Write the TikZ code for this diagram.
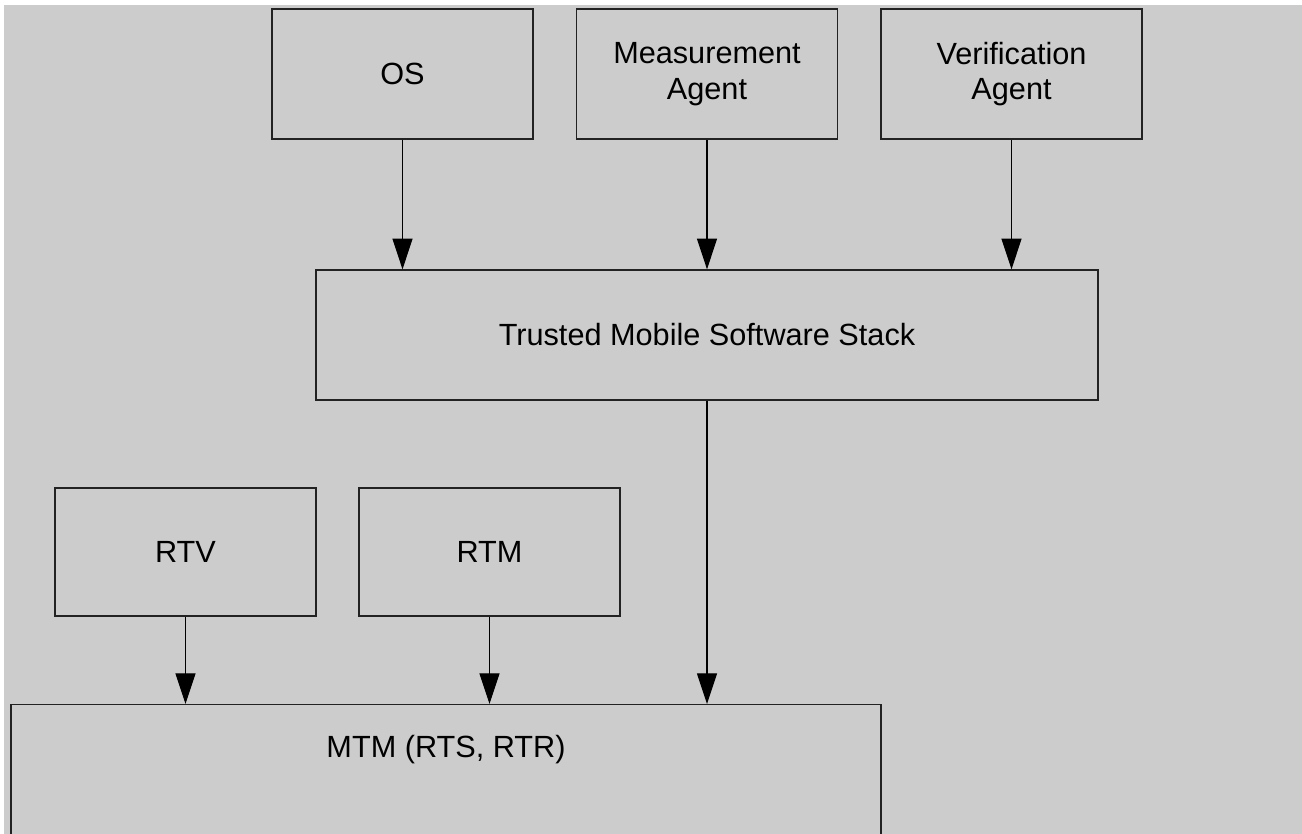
\documentclass[tikz,border=0pt]{standalone}
\usepackage{fontspec}
\setmainfont{Liberation Sans}
\usetikzlibrary{arrows.meta}
\definecolor{canvas}{HTML}{CCCCCC}
\definecolor{edge}{HTML}{222222}
\begin{document}
\begin{tikzpicture}[x=0.75pt,y=-0.75pt,
  box/.style={draw=edge, line width=1pt, rectangle, inner sep=0pt, align=center,
    font=\fontsize{23}{26.5}\selectfont, text=black},
  topbox/.style={box, minimum width=195.75pt, minimum height=97.5pt},
  midbox/.style={box, minimum width=586.5pt, minimum height=97.5pt},
  lowbox/.style={box, minimum width=195.75pt, minimum height=96pt},
  arr/.style={draw=black, line width=0.8pt, -{Triangle[width=15pt,length=23pt]}}]
  \clip (0,0) rectangle (1302,834);
  % page margin and grey canvas
  \fill[white] (0,0) rectangle (1302,834);
  \fill[canvas] (4,5) rectangle (1302,834);

  % upper row
  \node[topbox] (os) at (402.5,74) {OS};
  \node[topbox] (ma) at (707,74) {Measurement\\Agent};
  \node[topbox] (va) at (1011.5,74) {Verification\\Agent};

  % software stack
  \node[midbox] (tmss) at (707,335) {Trusted Mobile Software Stack};

  % roots of trust
  \node[lowbox] (rtv) at (185.5,552) {RTV};
  \node[lowbox] (rtm) at (489.5,552) {RTM};

  % mobile trusted module, running past the lower edge
  \node[box, anchor=north, minimum width=652.5pt, text height=39.75pt,
        text depth=72pt, inner ysep=0pt] (mtm) at (446,704) {MTM (RTS, RTR)};

  % connectors
  \draw[arr] (os.south) -- (os.south |- tmss.north);
  \draw[arr] (ma.south) -- (ma.south |- tmss.north);
  \draw[arr] (va.south) -- (va.south |- tmss.north);
  \draw[arr] (tmss.south) -- (tmss.south |- mtm.north);
  \draw[arr] (rtv.south) -- (rtv.south |- mtm.north);
  \draw[arr] (rtm.south) -- (rtm.south |- mtm.north);
\end{tikzpicture}
\end{document}
